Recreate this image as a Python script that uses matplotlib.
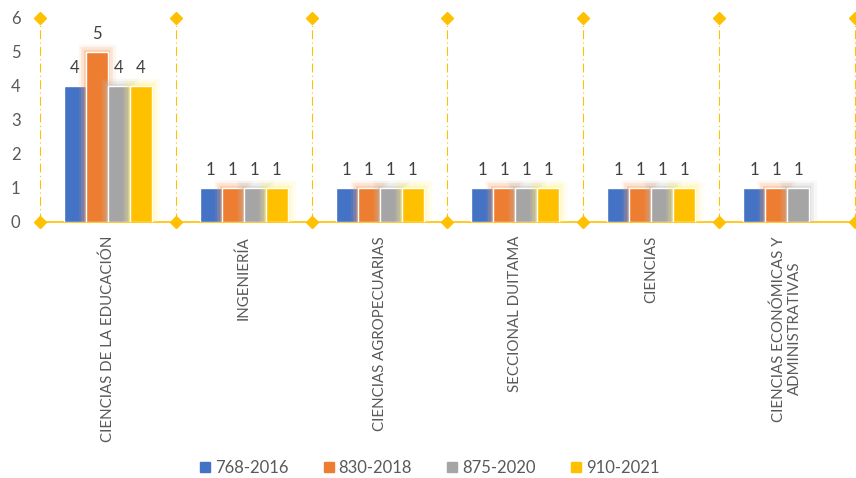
import numpy as np
import matplotlib.pyplot as plt
import matplotlib.patheffects as pe
from matplotlib.lines import Line2D

categories = ['CIENCIAS DE LA EDUCACIÓN', 'INGENIERÍA', 'CIENCIAS AGROPECUARIAS',
              'SECCIONAL DUITAMA', 'CIENCIAS', 'CIENCIAS ECONÓMICAS Y\nADMINISTRATIVAS']
series = ['768-2016', '830-2018', '875-2020', '910-2021']
v768 = [4, 1, 1, 1, 1, 1]
v830 = [5, 1, 1, 1, 1, 1]
v875 = [4, 1, 1, 1, 1, 1]
v910 = [4, 1, 1, 1, 1, np.nan]

colors = ['#4472C4', '#ED7D31', '#A5A5A5', '#FFC000']
glows = [None, '#F8A36A', '#BFBFBF', '#FFF27A']
gold = '#FFC000'
txt = '#595959'

plt.rcParams['font.family'] = ['Lato', 'DejaVu Sans']

fig = plt.figure(figsize=(8.56, 4.78), dpi=100)
ax = fig.add_axes([40 / 856, 1 - 222 / 478, 815 / 856, 204 / 478])

x = np.arange(len(categories))
w = 0.162
for i, vals in enumerate([v768, v830, v875, v910]):
    pos = x + (i - 1.5) * w
    bars = ax.bar(pos, vals, w, color=colors[i], edgecolor='white', linewidth=1.0,
                  label=series[i], zorder=3)
    if glows[i]:
        for b in bars:
            b.set_path_effects([
                pe.Stroke(linewidth=11, foreground=glows[i], alpha=0.1),
                pe.Stroke(linewidth=7, foreground=glows[i], alpha=0.2),
                pe.Stroke(linewidth=3, foreground=glows[i], alpha=0.35),
                pe.Normal()])
    for p, v in zip(pos, vals):
        if not np.isnan(v):
            ax.text(p, v + 0.3, f'{v:g}', ha='center', va='bottom', fontsize=12,
                    color='#404040', zorder=4)

# dash-dot separators with diamonds
bounds = np.arange(len(categories) + 1) - 0.5
for b in bounds:
    ax.plot([b, b], [0, 6], color=gold, lw=0.8, ls=(0, (8, 3, 1, 3)), zorder=1,
            clip_on=False)
    ax.plot([b, b], [0, 6], ls='none', marker='D', ms=6, color=gold, zorder=5,
            clip_on=False)

ax.set_xlim(-0.5, len(categories) - 0.5)
ax.set_ylim(0, 6)
ax.set_yticks(range(7))
ax.tick_params(axis='y', length=0, labelsize=12, labelcolor=txt, pad=14)
ax.set_xticks(x)
ax.set_xticklabels(categories, rotation=90, fontsize=10.8, color=txt,
                   va='top', ha='center', multialignment='center')
ax.tick_params(axis='x', length=0, pad=10)
for s in ['top', 'right', 'left']:
    ax.spines[s].set_visible(False)
ax.spines['bottom'].set_color(gold)
ax.spines['bottom'].set_linewidth(1.2)

handles = [Line2D([], [], ls='none', marker='s', ms=7, color=c) for c in colors]
fig.legend(handles, series, loc='center', bbox_to_anchor=(0.5, 1 - 468 / 478),
           ncol=4, frameon=False, fontsize=12, labelcolor=txt,
           handletextpad=0.1, columnspacing=1.9, handlelength=1)

fig.savefig('out.png', dpi=100)
